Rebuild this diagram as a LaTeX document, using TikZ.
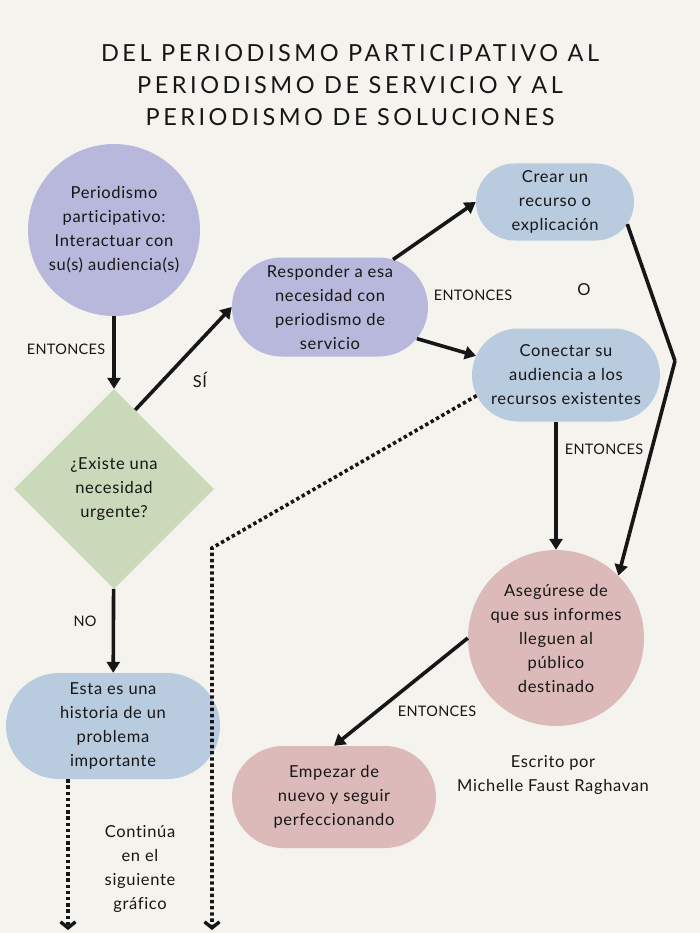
\documentclass[tikz,border=0pt]{standalone}
\usepackage{fontspec}
\setmainfont{Lato}[Ligatures={NoCommon,NoRare}]
\usepackage{tikz}
\usetikzlibrary{arrows.meta, positioning, shapes.geometric, shapes.misc, calc}

\definecolor{bgcream}{HTML}{F5F3EE}
\definecolor{lavender}{HTML}{B7B8DB}
\definecolor{sage}{HTML}{C9D9BA}
\definecolor{skyblue}{HTML}{B9CBDE}
\definecolor{rosepink}{HTML}{DDBABA}
\definecolor{inkblack}{HTML}{161616}

\begin{document}
\begin{tikzpicture}[
  x=1pt, y=-1pt,
  every node/.style={text=inkblack, font=\fontsize{16.5}{24}\selectfont\addfontfeature{LetterSpace=4}},
  roundnode/.style={circle, fill=#1, align=center, inner sep=0pt},
  pillnode/.style={rounded rectangle, fill=#1, align=center, inner sep=0pt},
  decnode/.style={diamond, fill=sage, align=center, inner sep=0pt, minimum size=200pt},
  lbl/.style={font=\fontsize{14.5}{16}\selectfont\addfontfeature{LetterSpace=2}},
  edge/.style={-{Triangle[length=11pt, width=13pt]}, line width=3.6pt, draw=inkblack},
  link/.style={line width=3.6pt, draw=inkblack, line join=miter},
  cont/.style={-{Straight Barb[length=6pt, width=15pt, line width=3.4pt]}, line width=3.6pt, dash pattern=on 3.4pt off 2.8pt, draw=inkblack}
]
\fill[bgcream] (0,0) rectangle (700,933);
\useasboundingbox (0,0) rectangle (700,933);

% title
\node[font=\fontsize{23.5}{32}\selectfont\addfontfeature{LetterSpace=15}, align=center] (title) at (350,85)
  {DEL PERIODISMO PARTICIPATIVO AL\\PERIODISMO DE SERVICIO Y AL\\PERIODISMO DE SOLUCIONES};

% nodes
\node[roundnode=lavender, minimum size=172pt] (part) at (114,230) {Periodismo\\participativo:\\Interactuar con\\su(s) audiencia(s)};
\node[decnode] (need) at (114,489) {¿Existe una\\necesidad\\urgente?};
\node[pillnode=lavender, minimum width=196pt, minimum height=99pt] (resp) at (330,307) {Responder a esa\\necesidad con\\periodismo de\\servicio};
\node[pillnode=skyblue, minimum width=158pt, minimum height=77pt] (crear) at (555,202) {Crear un\\recurso o\\explicación};
\node[pillnode=skyblue, minimum width=188pt, minimum height=93pt] (conn) at (566,375) {Conectar su\\audiencia a los\\recursos existentes};
\node[roundnode=rosepink, minimum size=176pt] (aseg) at (556,638) {Asegúrese de\\que sus informes\\lleguen al\\público\\destinado};
\node[pillnode=skyblue, minimum width=214pt, minimum height=106pt] (story) at (113,726) {Esta es una\\historia de un\\problema\\importante};
\node[pillnode=rosepink, minimum width=204pt, minimum height=102pt] (again) at (334,797) {Empezar de\\nuevo y seguir\\perfeccionando};

\node[align=center] (next) at (140,869) {Continúa\\en el\\siguiente\\gráfico};
\node[align=center] (credit) at (553,775) {Escrito por\\Michelle Faust Raghavan};

% labels
\node[lbl] at (66,349) {ENTONCES};
\node at (200,380) {SÍ};
\node[lbl] at (85,621) {NO};
\node[lbl] at (473,295) {ENTONCES};
\node at (584,290) {O};
\node[lbl] at (604,449) {ENTONCES};
\node[lbl] at (437,711) {ENTONCES};

% connectors
\coordinate (bend) at (675,361);
\coordinate (dotturn) at (212,548);
\coordinate (dotend) at (212,930);
\coordinate (storyend) at (68,930);

\draw[edge] (part) -- (need);
\draw[edge] (need.75) -- (resp.west);
\draw[edge] (resp.37) -- (crear.west);
\draw[edge] (resp.-20) -- (conn.168);
\draw[link] (crear.-17) -- (bend);
\draw[edge] (bend) -- (aseg.45);
\draw[edge] (aseg.north |- conn.south) -- (aseg.north);
\draw[edge] (need) -- (story);
\draw[edge] (aseg.west) -- (again.north);
\draw[cont] (conn.193) -- (dotturn) -- (dotend);
\draw[cont] (story.south -| storyend) -- (storyend);
\end{tikzpicture}
\end{document}
